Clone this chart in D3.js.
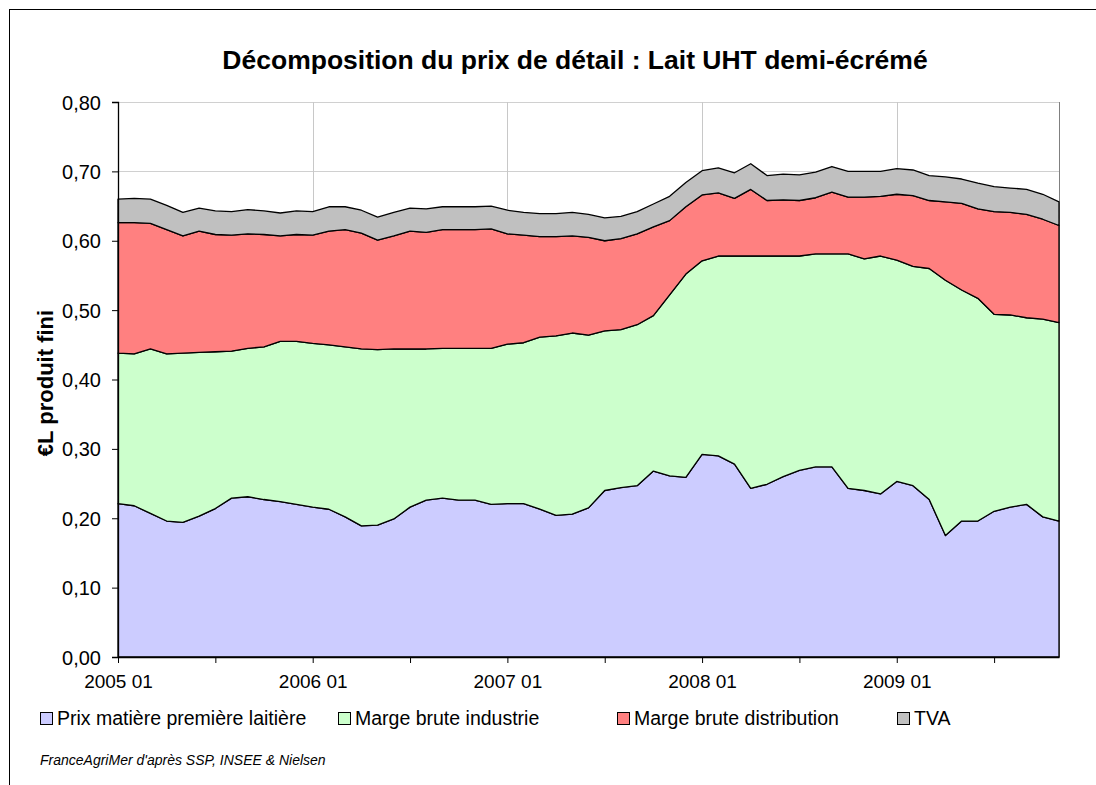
<!DOCTYPE html>
<html>
<head>
<meta charset="utf-8">
<script src="https://cdn.jsdelivr.net/npm/d3@7"></script>
<style>
  body { margin: 0; background: #fff; }
  text { font-family: Arial, "Liberation Sans", sans-serif; }
</style>
</head>
<body>
<script>
// months 2005 01 .. 2009 11
var years = [2005, 2006, 2007, 2008, 2009];
var months = [];
years.forEach(function(yr) {
    for (var m = 1; m <= 12; m++) {
        if (yr == 2009 && m > 11) break;
        months.push(yr + " " + (m < 10 ? "0" + m : m));
    }
});

var xTickLabels = ["2005 01", "2006 01", "2007 01", "2008 01", "2009 01"];
var yTicks = [0, 0.1, 0.2, 0.3, 0.4, 0.5, 0.6, 0.7, 0.8];

var keys = ["prix", "industrie", "distribution", "tva"];
var labels = ["Prix matière première laitière", "Marge brute industrie", "Marge brute distribution", "TVA"];
var colors = ["#ccccff", "#ccffcc", "#ff8080", "#c0c0c0"];

var prix = [0.221, 0.218, 0.207, 0.196, 0.194, 0.203, 0.214, 0.229, 0.231, 0.227,
    0.224, 0.220, 0.216, 0.213, 0.202, 0.189, 0.190, 0.199, 0.216, 0.226,
    0.229, 0.226, 0.226, 0.220, 0.221, 0.221, 0.213, 0.204, 0.206, 0.215,
    0.240, 0.244, 0.247, 0.268, 0.261, 0.259, 0.292, 0.290, 0.278, 0.243,
    0.249, 0.260, 0.269, 0.274, 0.274, 0.243, 0.240, 0.235, 0.253, 0.247,
    0.227, 0.175, 0.196, 0.196, 0.210, 0.216, 0.220, 0.202, 0.196];
var industrie = [0.217, 0.219, 0.237, 0.241, 0.244, 0.236, 0.226, 0.212, 0.214, 0.220,
    0.231, 0.235, 0.236, 0.237, 0.245, 0.255, 0.253, 0.245, 0.228, 0.218,
    0.216, 0.219, 0.219, 0.225, 0.230, 0.232, 0.248, 0.259, 0.261, 0.249,
    0.230, 0.228, 0.232, 0.224, 0.261, 0.293, 0.279, 0.288, 0.300, 0.335,
    0.329, 0.318, 0.309, 0.307, 0.307, 0.338, 0.334, 0.343, 0.319, 0.316,
    0.333, 0.368, 0.333, 0.321, 0.284, 0.277, 0.269, 0.285, 0.286];
var distribution = [0.188, 0.189, 0.181, 0.179, 0.169, 0.175, 0.169, 0.167, 0.165, 0.162,
    0.152, 0.154, 0.156, 0.164, 0.169, 0.167, 0.158, 0.163, 0.170, 0.168,
    0.171, 0.171, 0.171, 0.172, 0.159, 0.155, 0.145, 0.143, 0.140, 0.141,
    0.130, 0.131, 0.131, 0.128, 0.107, 0.097, 0.095, 0.091, 0.083, 0.096,
    0.080, 0.081, 0.080, 0.081, 0.089, 0.082, 0.089, 0.086, 0.095, 0.102,
    0.098, 0.113, 0.125, 0.129, 0.148, 0.148, 0.149, 0.144, 0.140];
var tva = [0.034, 0.035, 0.035, 0.035, 0.034, 0.033, 0.034, 0.034, 0.035, 0.034,
    0.033, 0.034, 0.034, 0.035, 0.033, 0.033, 0.033, 0.034, 0.033, 0.034,
    0.033, 0.033, 0.033, 0.033, 0.034, 0.033, 0.033, 0.033, 0.034, 0.033,
    0.033, 0.032, 0.032, 0.033, 0.035, 0.035, 0.035, 0.036, 0.037, 0.037,
    0.036, 0.037, 0.037, 0.037, 0.037, 0.037, 0.037, 0.036, 0.037, 0.037,
    0.036, 0.036, 0.035, 0.037, 0.036, 0.035, 0.036, 0.036, 0.034];

var rows = months.map(function(m, i) {
    return { month: m, i: i, prix: prix[i], industrie: industrie[i], distribution: distribution[i], tva: tva[i] };
});

var W = 1096, H = 785;
// plot area edges (note: "top" is taken by window.top)
var plotLeft = 118, plotRight = 1059, plotTop = 102, plotBottom = 657;

var svg = d3.select("body").append("svg")
    .attr("width", W)
    .attr("height", H);

// outer chart frame (runs off the picture at right and bottom)
svg.append("rect")
    .attr("x", 9.5).attr("y", 9.5)
    .attr("width", W + 20).attr("height", H + 20)
    .attr("fill", "#fff")
    .attr("stroke", "#000");

var x = d3.scaleLinear().domain([0, months.length - 1]).range([plotLeft, plotRight]);
var y = d3.scaleLinear().domain([0, 0.8]).range([plotBottom, plotTop]);

// gridlines
svg.append("g").selectAll("line")
    .data(yTicks.slice(1))
    .enter()
    .append("line")
    .attr("x1", plotLeft).attr("x2", plotRight)
    .attr("y1", function(d) { return Math.round(y(d)) + 0.5; })
    .attr("y2", function(d) { return Math.round(y(d)) + 0.5; })
    .attr("stroke", "#d0d0d0");

svg.append("g").selectAll("line")
    .data(xTickLabels.slice(1))
    .enter()
    .append("line")
    .attr("x1", function(d) { return Math.round(x(months.indexOf(d))) + 0.5; })
    .attr("x2", function(d) { return Math.round(x(months.indexOf(d))) + 0.5; })
    .attr("y1", plotTop).attr("y2", plotBottom)
    .attr("stroke", "#c8c8c8");

// right border of plot
svg.append("line")
    .attr("x1", plotRight + 0.5).attr("x2", plotRight + 0.5)
    .attr("y1", plotTop).attr("y2", plotBottom)
    .attr("stroke", "#808080");

// stacked areas
var stack = d3.stack().keys(keys);
var series = stack(rows);

var area = d3.area()
    .x(function(d) { return x(d.data.i); })
    .y0(function(d) { return y(d[0]); })
    .y1(function(d) { return y(d[1]); });

svg.append("g").selectAll("path")
    .data(series)
    .enter()
    .append("path")
    .attr("d", area)
    .attr("fill", function(d, i) { return colors[i]; })
    .attr("stroke", "#000")
    .attr("stroke-width", 1.3)
    .attr("stroke-linejoin", "round");

// axes
var yAxis = d3.axisLeft(y)
    .tickValues(yTicks)
    .tickSize(6)
    .tickFormat(function(d) { return d3.format(".2f")(d).replace(".", ","); });

var gy = svg.append("g")
    .attr("transform", "translate(" + plotLeft + ",0)")
    .call(yAxis);
gy.select(".domain").attr("stroke", "#000").attr("stroke-width", 1.3);
gy.selectAll("text")
    .attr("font-size", 20)
    .attr("fill", "#000")
    .attr("x", -17)
    .attr("dy", "0.35em")
    .style("font-family", "Arial, 'Liberation Sans', sans-serif");

var xTickIdx = d3.range(0, months.length, 6);
var xAxis = d3.axisBottom(x)
    .tickValues(xTickIdx)
    .tickSize(6)
    .tickSizeOuter(0)
    .tickFormat(function(d) {
        return xTickLabels.indexOf(months[d]) >= 0 ? months[d] : "";
    });

var gx = svg.append("g")
    .attr("transform", "translate(0," + plotBottom + ")")
    .call(xAxis);
gx.select(".domain").attr("stroke", "#000").attr("stroke-width", 1.3);
gx.selectAll("text")
    .attr("font-size", 19)
    .attr("fill", "#000")
    .attr("y", 18)
    .attr("dy", "0.71em")
    .style("font-family", "Arial, 'Liberation Sans', sans-serif");

// title
svg.append("text")
    .attr("x", 575)
    .attr("y", 69)
    .attr("text-anchor", "middle")
    .attr("font-size", 26.5)
    .attr("font-weight", "bold")
    .text("Décomposition du prix de détail : Lait UHT demi-écrémé");

// y axis title
svg.append("text")
    .attr("transform", "translate(53,383) rotate(-90)")
    .attr("text-anchor", "middle")
    .attr("font-size", 22)
    .attr("font-weight", "bold")
    .text("€L produit fini");

// legend
var legendX = [40, 338, 617, 897];
var legend = svg.append("g").selectAll("g")
    .data(labels)
    .enter()
    .append("g")
    .attr("transform", function(d, i) { return "translate(" + legendX[i] + ",712)"; });

legend.append("rect")
    .attr("x", 0.5).attr("y", 0.5)
    .attr("width", 12).attr("height", 12)
    .attr("fill", function(d, i) { return colors[i]; })
    .attr("stroke", "#000");

legend.append("text")
    .attr("x", 17)
    .attr("y", 13)
    .attr("font-size", 19.5)
    .text(function(d) { return d; });

// source
svg.append("text")
    .attr("x", 40)
    .attr("y", 765)
    .attr("font-size", 14)
    .attr("font-style", "italic")
    .text("FranceAgriMer d'après SSP, INSEE & Nielsen");
</script>
</body>
</html>
